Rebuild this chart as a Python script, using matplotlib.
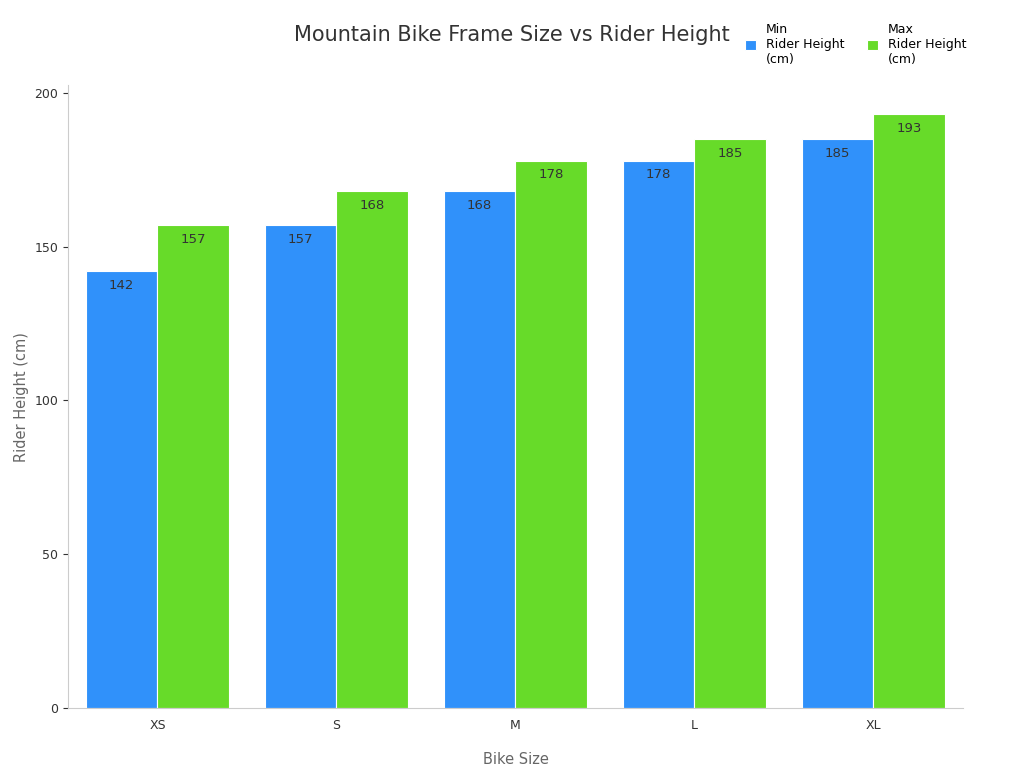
import matplotlib
matplotlib.use("Agg")
import matplotlib.pyplot as plt
import numpy as np

categories = ["XS", "S", "M", "L", "XL"]
min_height = [142, 157, 168, 178, 185]
max_height = [157, 168, 178, 185, 193]

fig = plt.figure(figsize=(10.24, 7.68), dpi=100)
ax = fig.add_axes([0.0664, 0.0781, 0.874, 0.811])
x = np.arange(len(categories))
w = 0.4
b1 = ax.bar(x - w/2, min_height, w, color="#3091FA", edgecolor="white", linewidth=0.8, label="Min\nRider Height\n(cm)")
b2 = ax.bar(x + w/2, max_height, w, color="#67DB29", edgecolor="white", linewidth=0.8, label="Max\nRider Height\n(cm)")
for bars, vals in ((b1, min_height), (b2, max_height)):
    for r, v in zip(bars, vals):
        ax.text(r.get_x() + r.get_width()/2, v - 2.5, str(v), ha="center", va="top", fontsize=9.5, color="#333333")

ax.set_xlim(-0.5, 4.5)
ax.set_ylim(0, 202.5)
ax.set_xticks(x)
ax.set_xticklabels(categories)
ax.set_yticks([0, 50, 100, 150, 200])
for s in ["top", "right"]:
    ax.spines[s].set_visible(False)
ax.spines["left"].set_color("#cccccc")
ax.spines["bottom"].set_color("#cccccc")
ax.tick_params(colors="#333333", labelsize=9)
ax.tick_params(axis="x", length=0, pad=8)
ax.set_xlabel("Bike Size", fontsize=10.5, color="#666666", labelpad=14)
ax.set_ylabel("Rider Height (cm)", fontsize=10.5, color="#666666")
fig.text(0.5, 0.954, "Mountain Bike Frame Size vs Rider Height", ha="center", va="center", fontsize=15, color="#333333")
fig.legend(loc="upper right", bbox_to_anchor=(0.955, 0.985), ncol=2, frameon=False, fontsize=9,
           handlelength=0.9, handleheight=0.9, columnspacing=1.8, handletextpad=0.8)
fig.savefig("out.png", dpi=100)
